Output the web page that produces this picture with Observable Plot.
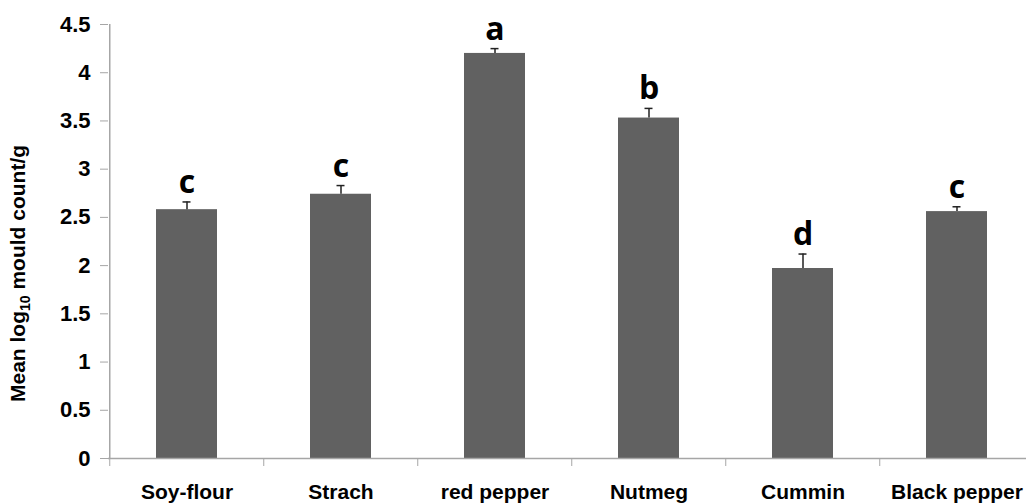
<!DOCTYPE html>
<html><head><meta charset="utf-8">
<script src="https://cdn.jsdelivr.net/npm/d3@7"></script>
<script src="https://cdn.jsdelivr.net/npm/@observablehq/plot@0.6"></script>
<style>
html,body{margin:0;padding:0;background:#fff;overflow:hidden}
</style>
</head><body><div id="chart"></div>
<script>
const categories = ["Soy-flour", "Strach", "red pepper", "Nutmeg", "Cummin", "Black pepper"];
const means = [2.58, 2.74, 4.20, 3.53, 1.97, 2.56];
const errors = [0.08, 0.09, 0.05, 0.10, 0.15, 0.05];
const letters = ["c", "c", "a", "b", "d", "c"];
const yTicks = [0, 0.5, 1, 1.5, 2, 2.5, 3, 3.5, 4, 4.5];
const yTickLabels = ["0", "0.5", "1", "1.5", "2", "2.5", "3", "3.5", "4", "4.5"];
const yLabelParts = ["Mean log", "10", " mould count/g"];

const data = categories.map((c, i) => ({cat: c, mean: means[i], se: errors[i], letter: letters[i]}));
const yLabel = yLabelParts.join("");

const W = 1026, H = 504;
const xRange = [108, 1035];
const step = (xRange[1] - xRange[0]) / categories.length;
const axisColor = "#a6a6a6";
const sans = "'Liberation Sans', Arial, sans-serif";

const chart = Plot.plot({
  width: W,
  height: H,
  marginTop: 24,
  marginBottom: 46,
  marginLeft: 108,
  marginRight: 0,
  style: {fontFamily: sans, background: "#fff", color: "#000"},
  x: {domain: categories, range: xRange, paddingInner: 0.605, paddingOuter: 0.3025, label: null},
  y: {domain: [0, 4.5], label: null},
  marks: [
    Plot.barY(data, {x: "cat", y: "mean", fill: "#616161"}),
    Plot.ruleX(data, {x: "cat", y1: "mean", y2: d => d.mean + d.se, stroke: "#222", strokeWidth: 1.5}),
    Plot.tickY(data, {x: "cat", y: d => d.mean + d.se, stroke: "#222", strokeWidth: 1.5, insetLeft: 26.5, insetRight: 26.5}),
    Plot.text(data, {x: "cat", y: d => d.mean + d.se, text: "letter", dy: -9, lineAnchor: "bottom",
      fontSize: 32, fontWeight: "bold", fontFamily: "'Open Sans', sans-serif", fill: "#000"}),
    Plot.ruleY([0], {stroke: axisColor, strokeWidth: 1.5}),
    Plot.ruleX([categories[0]], {x: d => d, dx: -step / 2, y1: 0, y2: 4.5, stroke: axisColor, strokeWidth: 1.5}),
    Plot.axisY({ticks: yTicks, tickFormat: d => yTickLabels[yTicks.indexOf(d)], tickSize: 8, tickPadding: 10,
      stroke: axisColor, fontSize: 22, fontWeight: "bold", fill: "#000", label: null}),
    Plot.axisX({tickSize: 0, tickPadding: 26, fontSize: 21, fontWeight: "bold", fill: "#000", label: null}),
    Plot.axisX({tickSize: 8, dx: -step / 2, tickFormat: () => "", stroke: axisColor, label: null}),
    Plot.text([yLabel], {frameAnchor: "left", textAnchor: "middle", rotate: -90, dx: -90, dy: 32,
      fontSize: 21, fontWeight: "bold", fill: "#000"})
  ]
});

document.getElementById("chart").appendChild(chart);

// subscript in the y-axis title
chart.querySelectorAll("text").forEach(t => {
  if (t.textContent === yLabel) {
    t.textContent = "";
    const ns = "http://www.w3.org/2000/svg";
    const a = document.createElementNS(ns, "tspan"); a.textContent = yLabelParts[0];
    const b = document.createElementNS(ns, "tspan"); b.textContent = yLabelParts[1];
    b.setAttribute("font-size", "14"); b.setAttribute("dy", "5");
    const c = document.createElementNS(ns, "tspan"); c.textContent = yLabelParts[2];
    c.setAttribute("dy", "-5");
    t.append(a, b, c);
  }
});
</script>
</body></html>
